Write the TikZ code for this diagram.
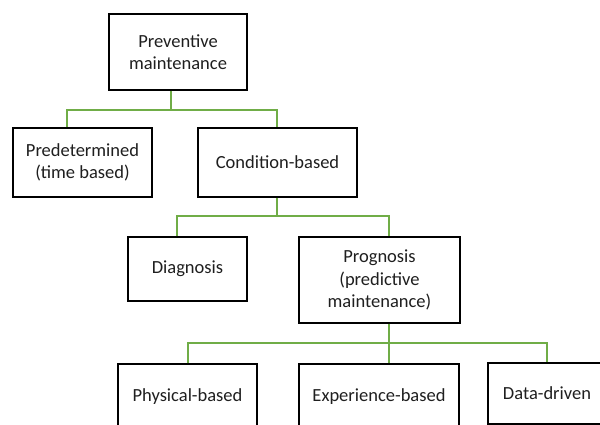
\documentclass[tikz,border=0pt]{standalone}
\usepackage{fontspec}
\setmainfont{Carlito}
\begin{document}
\begin{tikzpicture}[x=1pt,y=-1pt,
  box/.style={draw=black,line width=1.4pt,fill=white,inner sep=0pt,align=center,
    font=\fontsize{18.5}{22.5}\selectfont,text=black!88},
  link/.style={draw={rgb,255:red,112;green,173;blue,71},line width=1.3pt}]
\useasboundingbox (0,0) rectangle (600,425);
\clip (0,0) rectangle (600,425);
\fill[white] (0,0) rectangle (600,425);
% nodes
\node[box,minimum width=138pt,minimum height=76pt] (pm) at (178,52) {Preventive\\maintenance};
\node[box,minimum width=139pt,minimum height=69pt] (pd) at (82.5,162.5) {Predetermined\\(time based)};
\node[box,minimum width=159pt,minimum height=69pt] (cb) at (277.5,162.5) {Condition-based};
\node[box,minimum width=119pt,minimum height=64pt] (dg) at (187.5,269) {Diagnosis};
\node[box,minimum width=161pt,minimum height=86pt] (pg) at (379.5,280) {Prognosis\\(predictive\\maintenance)};
\node[box,minimum width=139pt,minimum height=66pt] (ph) at (187.5,397) {Physical-based};
\node[box,minimum width=160pt,minimum height=66pt] (ex) at (379,397) {Experience-based};
\node[box,minimum width=118pt,minimum height=61pt] (dd) at (547,393.5) {Data-driven};
% bus coordinates
\coordinate (b1) at (171,110);
\coordinate (b1l) at (67,110);
\coordinate (b1r) at (277,110);
\coordinate (b2) at (277,216);
\coordinate (b2l) at (177,216);
\coordinate (b2r) at (389,216);
\coordinate (b3) at (389,343);
\coordinate (b3l) at (188,343);
\coordinate (b3r) at (547,343);
% connectors
\draw[link] (pm.south -| b1) -- (b1);
\draw[link] (pd.north -| b1l) -- (b1l) -- (b1r) -- (cb.north -| b1r);
\draw[link] (cb.south -| b2) -- (b2);
\draw[link] (dg.north -| b2l) -- (b2l) -- (b2r) -- (pg.north -| b2r);
\draw[link] (pg.south -| b3) -- (b3);
\draw[link] (ph.north -| b3l) -- (b3l) -- (b3r) -- (dd.north -| b3r);
\draw[link] (b3) -- (ex.north -| b3);
\end{tikzpicture}
\end{document}
